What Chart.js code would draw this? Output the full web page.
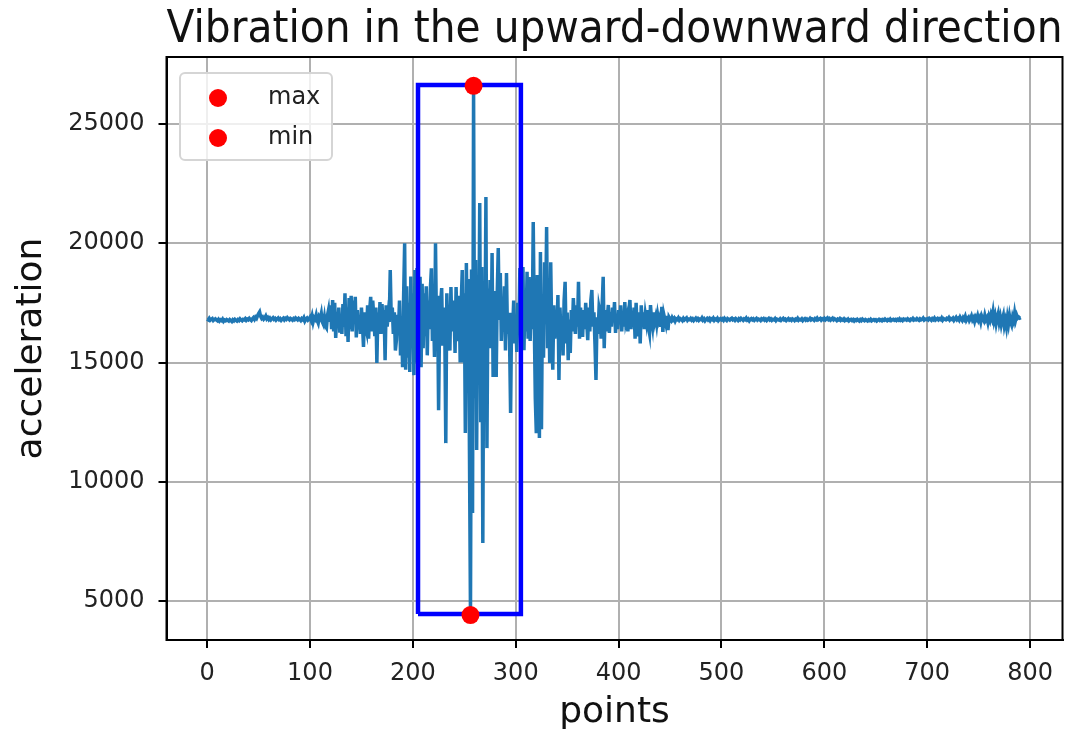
<!DOCTYPE html>
<html>
<head>
<meta charset="utf-8">
<script src="https://cdn.jsdelivr.net/npm/chart.js@4"></script>
<style>
  body { margin: 0; background: #fff; }
</style>
</head>
<body>
<canvas id="vibChart" width="1088" height="734"></canvas>
<script>
// acceleration readings, one per point (0..791)
const signal = [
    16820, 16790, 16850, 16770, 16810, 16840, 16760, 16800, 16830, 16780,
    16750, 16810, 16740, 16790, 16760, 16820, 16730, 16780, 16750, 16800,
    16770, 16740, 16800, 16760, 16720, 16790, 16750, 16810, 16770, 16740,
    16800, 16760, 16830, 16780, 16750, 16810, 16790, 16840, 16770, 16820,
    16790, 16850, 16800, 16760, 16830, 16880, 16810, 16900, 16850, 16960,
    17050, 17120, 16930, 16850, 16900, 16820, 16870, 16950, 16830, 16880,
    16800, 16860, 16790, 16840, 16880, 16810, 16850, 16780, 16830, 16870,
    16800, 16840, 16770, 16820, 16860, 16790, 16850, 16810, 16880, 16830,
    16790, 16850, 16820, 16780, 16840, 16800, 16870, 16830, 16790, 16850,
    16810, 16760, 16840, 16800, 16880, 16740, 16820, 16860, 16780, 16830,
    16900, 16780, 16950, 16700, 16880, 16820, 16990, 16760, 16650, 16920,
    16850, 17050, 16700, 16600, 16880, 16520, 16450, 16980, 17200, 16700,
    17400, 16400, 17620, 16300, 17500, 16030, 17100, 16600, 17300, 16250,
    16900, 16200, 17450, 16500, 17900, 16100, 17300, 15860, 17700, 16400,
    17800, 16300, 17600, 16700, 17750, 16050, 17200, 16400, 16900, 16200,
    17300, 16600, 15650, 17100, 16500, 16300, 17400, 16000, 17200, 17750,
    16300, 17600, 16900, 16100, 17300, 14980, 17100, 16400, 17530, 16200,
    17450, 16600, 17200, 15100, 17400, 16500, 17000, 16700, 18880, 16800,
    17300, 16200, 17100, 15500, 15940, 17000, 16400, 17600, 15300, 16900,
    14800, 17800, 20000, 14700, 18200, 15200, 17500, 14600, 18600, 15800,
    17900, 14470, 18880, 15000, 18960, 14390, 17700, 18590, 14800, 18300,
    15600, 17900, 16100, 18200, 15300, 17600, 16400, 18100, 18950, 15900,
    17400, 15230, 20000, 16200, 17800, 13000, 16900, 17500, 18120, 15700,
    17300, 16500, 11620, 17900, 16200, 16800, 15500, 18160, 16300, 17600,
    17200, 15400, 18160, 16600, 15900, 17800, 15000, 17500, 18880, 15000,
    17900, 12040, 19170, 15800, 18500, 11330, 4410, 18900, 8690, 26600,
    13500, 19300, 11330, 18200, 15600, 21690, 12500, 19000, 7430, 18400,
    15200, 21940, 11410, 18100, 16200, 18460, 15600, 19590, 14390, 18000,
    16500, 14390, 17900, 19800, 16780, 18750, 15900, 17400, 16300, 18200,
    15500, 18750, 16200, 17080, 15900, 12880, 17080, 16400, 17600, 15800,
    16900, 15440, 17500, 16200, 18960, 15300, 17400, 19000, 15520, 17900,
    16300, 18800, 16000, 18580, 15900, 17600, 16400, 20890, 16800, 13500,
    12040, 18670, 16500, 11830, 19630, 12200, 17800, 15200, 19200, 16600,
    20680, 15600, 18200, 14980, 19200, 16200, 14700, 17400, 16000, 17100,
    16400, 17830, 14270, 17300, 16100, 16900, 15300, 17600, 18380, 15800,
    17100, 15100, 16800, 15400, 17200, 16300, 17700, 16780, 16200, 17400,
    16500, 18380, 16000, 17300, 16600, 16070, 17200, 16400, 17500, 16700,
    15940, 17300, 16300, 17600, 18040, 16500, 17100, 15800, 14270, 16900,
    16200, 17300, 17070, 16000, 17400, 18590, 15600, 17200, 16300, 16900,
    17410, 16240, 17100, 16500, 17300, 16700, 17530, 16240, 17000, 16400,
    17200, 16600, 17400, 16300, 17100, 16500, 17530, 16700, 16900, 16300,
    17200, 17620, 16400, 17000, 16600, 17300, 16000, 17500, 16500, 16100,
    17100, 15800, 17400, 16600, 17100, 16400, 17000, 16700, 17200, 16500,
    16240, 17410, 16800, 16500, 17100, 16700, 16900, 16600, 17000, 16750,
    16900, 16500, 17330, 16280, 17000, 16800, 16600, 16950, 16360, 16900,
    16820, 16760, 16880, 16790, 16850, 16740, 16830, 16800, 16870, 16780,
    16840, 16810, 16760, 16850, 16790, 16830, 16870, 16770, 16820, 16800,
    16850, 16780, 16830, 16760, 16810, 16860, 16790, 16840, 16770, 16820,
    16800, 16870, 16780, 16830, 16750, 16810, 16850, 16790, 16840, 16760,
    16830, 16800, 16860, 16770, 16820, 16790, 16850, 16760, 16810, 16840,
    16790, 16830, 16770, 16850, 16800, 16760, 16840, 16810, 16780, 16830,
    16860, 16790, 16820, 16770, 16840, 16800, 16760, 16830, 16790, 16850,
    16810, 16770, 16830, 16800, 16860, 16780, 16820, 16750, 16810, 16840,
    16790, 16830, 16770, 16810, 16850, 16780, 16820, 16800, 16760, 16830,
    16800, 16840, 16780, 16820, 16760, 16810, 16850, 16790, 16830, 16770,
    16810, 16790, 16840, 16760, 16820, 16800, 16780, 16830, 16770, 16810,
    16850, 16790, 16820, 16760, 16800, 16840, 16780, 16810, 16770, 16830,
    16800, 16760, 16820, 16790, 16850, 16770, 16810, 16790, 16830, 16760,
    16810, 16840, 16780, 16820, 16770, 16800, 16850, 16790, 16830, 16810,
    16770, 16840, 16800, 16860, 16790, 16820, 16850, 16780, 16830, 16800,
    16850, 16790, 16830, 16870, 16800, 16840, 16780, 16820, 16860, 16790,
    16830, 16800, 16760, 16820, 16790, 16840, 16770, 16810, 16780, 16830,
    16760, 16800, 16770, 16820, 16750, 16790, 16810, 16760, 16800, 16740,
    16790, 16760, 16810, 16770, 16740, 16800, 16760, 16820, 16780, 16750,
    16800, 16770, 16740, 16790, 16760, 16810, 16750, 16780, 16800, 16760,
    16790, 16740, 16780, 16810, 16760, 16790, 16750, 16800, 16770, 16820,
    16780, 16750, 16800, 16770, 16820, 16760, 16790, 16810, 16770, 16800,
    16760, 16810, 16780, 16830, 16770, 16800, 16760, 16820, 16790, 16810,
    16780, 16830, 16790, 16760, 16820, 16800, 16850, 16780, 16810, 16790,
    16840, 16800, 16770, 16830, 16790, 16810, 16860, 16780, 16820, 16800,
    16830, 16790, 16850, 16810, 16770, 16840, 16800, 16860, 16780, 16820,
    16850, 16790, 16830, 16800, 16870, 16780, 16840, 16810, 16790, 16850,
    16820, 16880, 16790, 16840, 16810, 16860, 16770, 16830, 16890, 16800,
    16850, 16780, 16900, 16820, 16760, 16880, 16810, 16930, 16770, 16850,
    16900, 16760, 16840, 16950, 16790, 16870, 16720, 16900, 16820, 16960,
    16780, 16880, 16700, 16940, 16830, 16750, 16980, 16800, 16880, 16680,
    16920, 16780, 17000, 16850, 17120, 16760, 16950, 16640, 16880, 17050,
    16700, 16900, 16600, 16820, 16980, 16550, 16750, 16490, 16880, 16620,
    16950, 16700, 16580, 16900, 16750, 17070, 16800, 16980, 16860, 16900,
    16860, 16880
];

// highlighted extremes
const maxPoint = { x: 259, y: 26600 };
const minPoint = { x: 256, y: 4410 };

// window drawn round the peak
const boxX = [205, 305, 305, 205, 205];
const boxY = [4455, 4455, 26635, 26635, 4455];

const xTicks = [0, 100, 200, 300, 400, 500, 600, 700, 800];
const yTicks = [5000, 10000, 15000, 20000, 25000];

const FONT = "'DejaVu Sans', sans-serif";

// legend box drawn inside the axes, top-left
const innerLegend = {
    id: 'innerLegend',
    afterDatasetsDraw(chart) {
        const ctx = chart.ctx;
        const area = chart.chartArea;
        const x = area.left + 13.5;
        const y = area.top + 16;
        const w = 152, h = 87, r = 5;
        ctx.save();
        ctx.beginPath();
        ctx.roundRect(x, y, w, h, r);
        ctx.fillStyle = 'rgba(255,255,255,0.8)';
        ctx.fill();
        ctx.strokeStyle = '#d5d5d5';
        ctx.lineWidth = 2;
        ctx.stroke();
        const items = [chart.data.datasets[0], chart.data.datasets[1]];
        items.forEach((ds, i) => {
            const cy = y + 25 + i * 40;
            ctx.beginPath();
            ctx.arc(x + 38, cy, 9, 0, Math.PI * 2);
            ctx.fillStyle = ds.backgroundColor;
            ctx.fill();
            ctx.fillStyle = '#222';
            ctx.font = '24px ' + FONT;
            ctx.textBaseline = 'middle';
            ctx.fillText(ds.label, x + 88, cy);
        });
        ctx.restore();
    }
};

// black frame round the axes
const frame = {
    id: 'frame',
    afterDraw(chart) {
        const ctx = chart.ctx;
        const a = chart.chartArea;
        ctx.save();
        ctx.strokeStyle = '#000';
        ctx.lineWidth = 2;
        ctx.strokeRect(a.left, a.top, a.right - a.left, a.bottom - a.top);
        ctx.restore();
    }
};

new Chart(document.getElementById('vibChart'), {
    type: 'line',
    data: {
        datasets: [
            {
                label: 'max',
                type: 'scatter',
                data: [maxPoint],
                pointRadius: 9,
                pointHoverRadius: 9,
                backgroundColor: '#ff0000',
                borderWidth: 0,
                order: 0
            },
            {
                label: 'min',
                type: 'scatter',
                data: [minPoint],
                pointRadius: 9,
                pointHoverRadius: 9,
                backgroundColor: '#ff0000',
                borderWidth: 0,
                order: 0
            },
            {
                label: 'box',
                data: boxX.map((v, i) => ({ x: v, y: boxY[i] })),
                borderColor: '#0000ff',
                borderWidth: 4.5,
                pointRadius: 0,
                fill: false,
                order: 1
            },
            {
                label: 'signal',
                data: signal.map((v, i) => ({ x: i, y: v })),
                borderColor: '#1f77b4',
                borderWidth: 3.5,
                pointRadius: 0,
                tension: 0,
                fill: false,
                order: 2
            }
        ]
    },
    options: {
        responsive: false,
        animation: false,
        devicePixelRatio: 1,
        layout: {
            padding: { left: 0, right: 25.5, top: 0, bottom: 0 }
        },
        plugins: {
            legend: { display: false },
            tooltip: { enabled: false },
            title: {
                display: true,
                fullSize: false,
                text: 'Vibration in the upward-downward direction',
                color: '#111',
                font: { family: FONT, size: 45, weight: 'normal' },
                padding: { top: 3, bottom: 0 }
            }
        },
        scales: {
            x: {
                type: 'linear',
                min: -39.5,
                max: 831.5,
                afterBuildTicks: (scale) => { scale.ticks = xTicks.map(v => ({ value: v })); },
                afterFit: (scale) => { scale.height = 94; },
                grid: {
                    color: '#b0b0b0',
                    lineWidth: 2,
                    tickColor: '#000',
                    tickLength: 8,
                    tickWidth: 2
                },
                border: { color: '#000', width: 2 },
                ticks: {
                    color: '#222',
                    font: { family: FONT, size: 24 },
                    padding: 11,
                    maxRotation: 0,
                    autoSkip: false,
                    callback: (v) => String(v)
                },
                title: {
                    display: true,
                    text: 'points',
                    color: '#111',
                    font: { family: FONT, size: 36 },
                    padding: { top: 0, bottom: 0 }
                }
            },
            y: {
                type: 'linear',
                min: 3365,
                max: 27809,
                afterBuildTicks: (scale) => { scale.ticks = yTicks.map(v => ({ value: v })); },
                afterFit: (scale) => { scale.width = 166.5; },
                grid: {
                    color: '#b0b0b0',
                    lineWidth: 2,
                    tickColor: '#000',
                    tickLength: 8,
                    tickWidth: 2
                },
                border: { color: '#000', width: 2 },
                ticks: {
                    color: '#222',
                    font: { family: FONT, size: 24 },
                    padding: 14,
                    callback: (v) => String(v)
                },
                title: {
                    display: true,
                    text: 'acceleration',
                    color: '#111',
                    font: { family: FONT, size: 36 },
                    padding: { top: 10, bottom: 0 }
                }
            }
        }
    },
    plugins: [innerLegend, frame]
});
</script>
</body>
</html>
